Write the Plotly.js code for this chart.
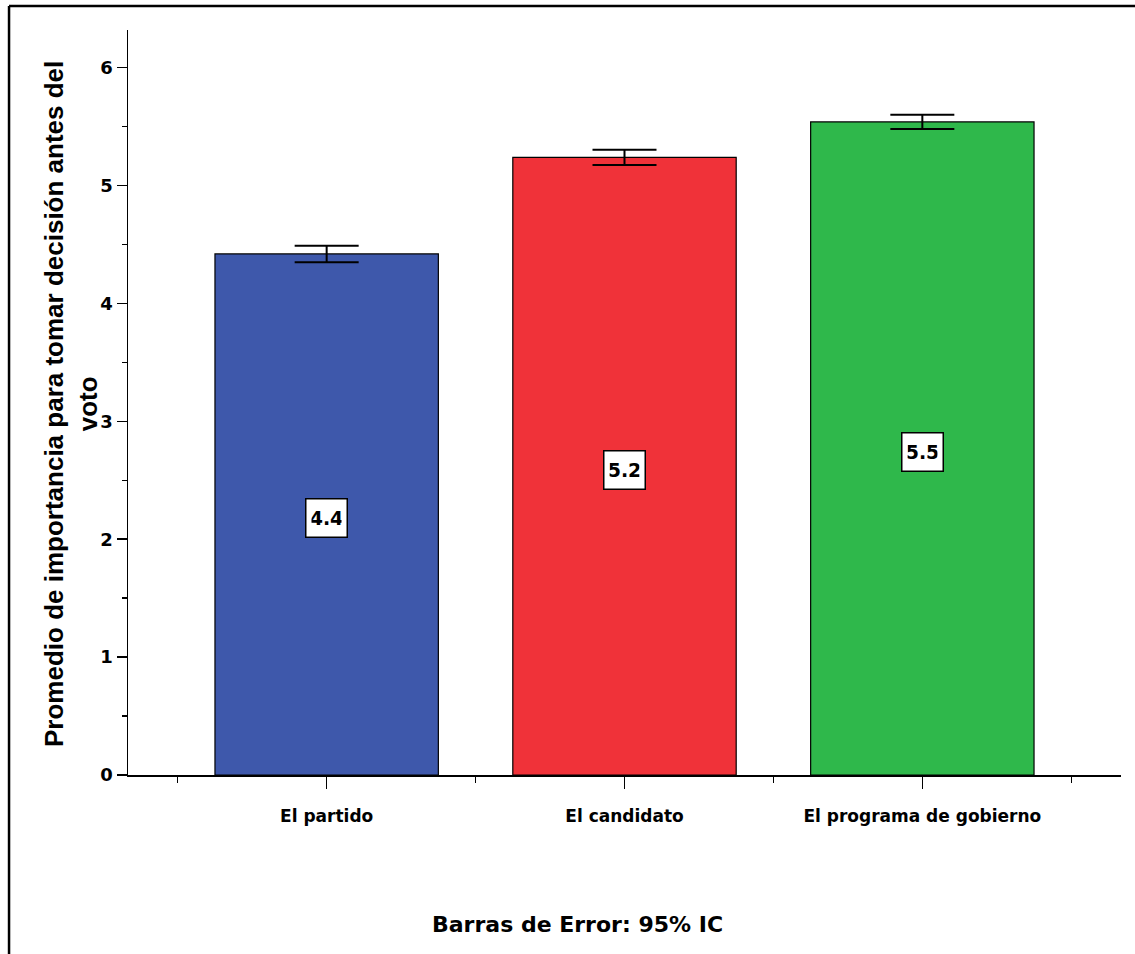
<!DOCTYPE html>
<html>
<head>
<meta charset="utf-8">
<script src="https://cdn.plot.ly/plotly-3.0.1.min.js"></script>
<style>html,body{margin:0;padding:0;background:#fff;}#chart{width:1135px;height:954px;}</style>
</head>
<body>
<div id="chart"></div>
<script>
// Data
const categories = ["El partido", "El candidato", "El programa de gobierno"];
const means = [4.42, 5.24, 5.54];
const ciUpper = [0.07, 0.065, 0.06];
const ciLower = [0.07, 0.065, 0.06];
const barColors = ["#3E58AB", "#F03239", "#2FB84B"];
const yTickVals = [0, 1, 2, 3, 4, 5, 6];
const yTitle = "Promedio de importancia para tomar decisión antes del<br>voto";
const caption = "Barras de Error: 95% IC";

const xIdx = categories.map((_, i) => i);
const heavy = "DejaVu Sans, Arial, sans-serif";
const arialB = "Liberation Sans, Arial, sans-serif";

const trace = {
  type: "bar",
  x: xIdx,
  y: means,
  width: 0.75,
  marker: {color: barColors, line: {color: "#000", width: 1.2}},
  error_y: {type: "data", symmetric: false, array: ciUpper, arrayminus: ciLower,
            color: "#000", thickness: 2, width: 32},
  hoverinfo: "skip"
};

const annotations = means.map((v, i) => ({
  x: i, y: v / 2, xref: "x", yref: "y", yshift: -4,
  text: "<b>" + v.toFixed(1) + "</b>", showarrow: false,
  font: {family: heavy, size: 19, color: "#000"},
  width: 30, height: 27,
  bgcolor: "#fff", bordercolor: "#000", borderwidth: 1.5, borderpad: 5,
  xanchor: "center", yanchor: "middle"
}));
annotations.push({
  x: -0.0574, y: 0.498, xref: "paper", yref: "paper",
  text: "<b>" + yTitle + "</b>", showarrow: false, textangle: -90,
  font: {family: arialB, size: 26, color: "#000"},
  xanchor: "center", yanchor: "middle", align: "center"
});
annotations.push({
  x: 0.453, y: -0.2013, xref: "paper", yref: "paper",
  text: "<b>" + caption + "</b>", showarrow: false,
  font: {family: heavy, size: 22, color: "#000"},
  xanchor: "center", yanchor: "middle"
});

const frame = {color: "#000", width: 2.5};
const layout = {
  width: 1135, height: 954,
  margin: {l: 128, r: 14, t: 30, b: 179},
  paper_bgcolor: "#fff", plot_bgcolor: "#fff",
  showlegend: false,
  xaxis: {
    range: [-0.667, 2.667], tickmode: "array", tickvals: xIdx, ticktext: categories.map(c => "<b>" + c + "</b>"),
    ticks: "outside", ticklen: 12, tickwidth: 1.5, tickcolor: "#000",
    minor: {tick0: 0.5, dtick: 1, ticks: "outside", ticklen: 6, tickwidth: 1.5, tickcolor: "#000", showgrid: false},
    showline: true, linecolor: "#000", linewidth: 1.5, showgrid: false, zeroline: false,
    tickfont: {family: heavy, size: 17, color: "#000"}, ticklabelstandoff: 13, fixedrange: true
  },
  yaxis: {
    range: [0, 6.32], tickmode: "array", tickvals: yTickVals, ticktext: yTickVals.map(v => "<b>" + v + "</b>"),
    ticks: "outside", ticklen: 10, tickwidth: 1.5, tickcolor: "#000",
    minor: {tick0: 0.5, dtick: 1, ticks: "outside", ticklen: 5, tickwidth: 1.5, tickcolor: "#000", showgrid: false},
    showline: true, linecolor: "#000", linewidth: 1.5, showgrid: false, zeroline: false,
    tickfont: {family: heavy, size: 18, color: "#000"}, fixedrange: true
  },
  annotations: annotations,
  shapes: [
    {type: "line", xref: "paper", yref: "paper", x0: -0.1198, x1: 1.02, y0: 1.0322, y1: 1.0322, line: frame},
    {type: "line", xref: "paper", yref: "paper", x0: -0.1198, x1: -0.1198, y0: 1.0322, y1: -0.25, line: frame}
  ]
};

Plotly.newPlot("chart", [trace], layout, {displayModeBar: false, staticPlot: true});
</script>
</body>
</html>
